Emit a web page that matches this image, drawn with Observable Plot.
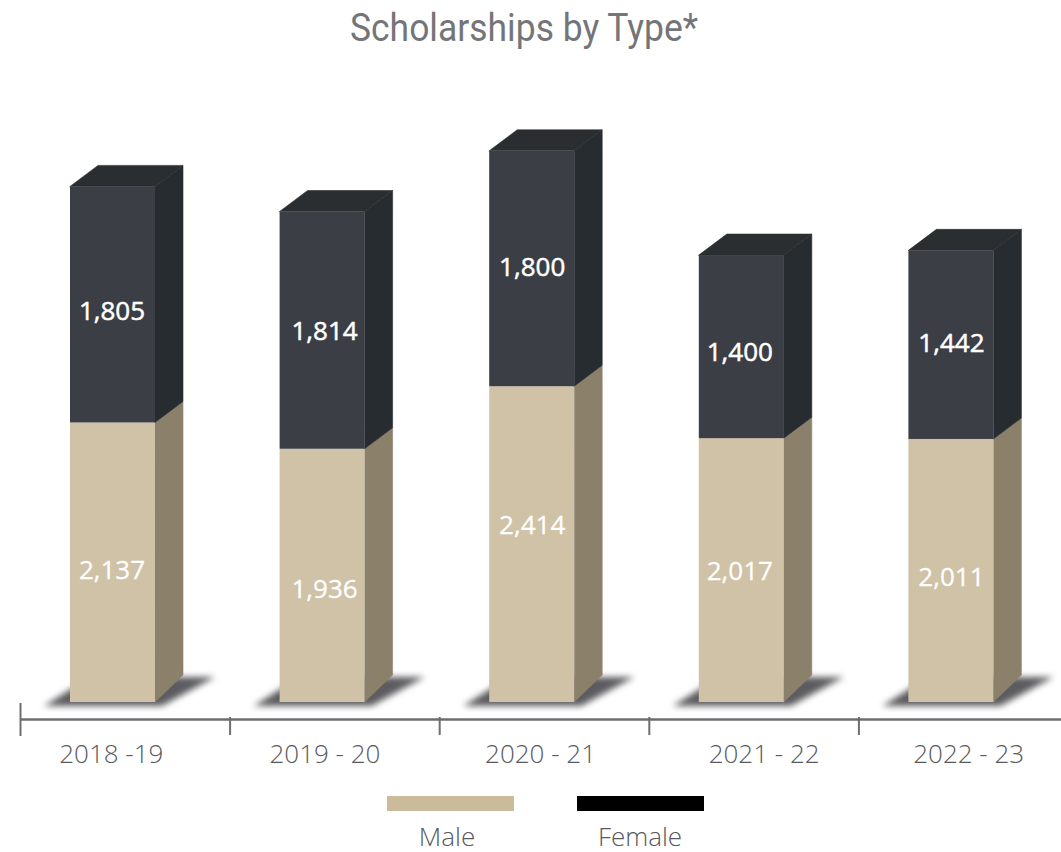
<!DOCTYPE html>
<html>
<head>
<meta charset="utf-8">
<script src="https://cdn.jsdelivr.net/npm/d3@7"></script>
<script src="https://cdn.jsdelivr.net/npm/@observablehq/plot@0.6"></script>
<style>
  html, body { margin: 0; padding: 0; background: #fff; overflow: hidden; }
  #title { position: relative; height: 60px; width: 1061px; }
  #title span { position: absolute; left: 524px; top: 6px; white-space: nowrap; font: 400 38px Roboto, sans-serif; color: #747578; transform-origin: 0 0; line-height: 44px; }
  #legend { position: relative; height: 82px; width: 1061px; font: 300 26px "Open Sans", sans-serif; color: #58595b; }
  #legend i { position: absolute; top: 26px; width: 127px; height: 15px; }
  #legend b { position: absolute; top: 50px; font-weight: 300; transform: translateX(-50%); line-height: 32px; }
  svg { display: block; overflow: visible; }
  .shadow { filter: blur(3px); }
</style>
</head>
<body>
<div id="title"><span>Scholarships by Type*</span></div>
<div id="chart"></div>
<div id="legend"></div>
<script>
const years = ["2018 -19", "2019 - 20", "2020 - 21", "2021 - 22", "2022 - 23"];
const male = [2137, 1936, 2414, 2017, 2011];
const female = [1805, 1814, 1800, 1400, 1442];
const seriesNames = ["Male", "Female"];

// Label nudges as drawn in the source, in pixels
const maleLabelNudge = [8, 14, -19, 1, 7];
const femaleLabelNudge = [7, 1, -1, 6, -1];
const valueLabelShift = [-1, 2, 0, -2, 0];
const yearLabelNudge = [-14, -10, -4, 10, 5];

const W = 1061, H = 710, baseY = 642, pxPerUnit = 0.1308, slotPx = 209.6, originX = 20;
const units = px => px / pxPerUnit;
const slots = px => px / slotPx;

const frontLeft = slots(50), frontRight = slots(135), depth = slots(28);
const lift = units(21), liftGround = units(27), axisValue = units(-17);

const segments = years.flatMap((y, i) => [
  {i, low: 0, high: male[i], part: "m", value: male[i], nudge: maleLabelNudge[i]},
  {i, low: male[i], high: male[i] + female[i], part: "f", value: female[i], nudge: femaleLabelNudge[i]}
]);

const sides = segments.flatMap((s, k) => [
  {k, part: s.part, x: s.i + frontRight, y1: s.low, y2: s.high},
  {k, part: s.part, x: s.i + frontRight + depth, y1: s.low + (s.low === 0 ? liftGround : lift), y2: s.high + lift}
]);

const tops = years.flatMap((y, i) => {
  const t = male[i] + female[i];
  return [
    {i, y: t, x1: i + frontLeft, x2: i + frontRight},
    {i, y: t + lift, x1: i + frontLeft + depth, x2: i + frontRight + depth}
  ];
});

const shadows = years.flatMap((y, i) => [
  {i, y: units(-4), x1: i + slots(24), x2: i + slots(142)},
  {i, y: units(25), x1: i + slots(70), x2: i + slots(195)}
]);

const fmt = d3.format(",");
const sans = "'Open Sans', sans-serif";
const tan = "#cfc2a6", tanSide = "#8b816b", dark = "#3b3f45", darkSide = "#272c30", darkTop = "#2a2e30", axisColor = "#6d6e71";
const partFill = (a, b) => d => d.part === "m" ? a : b;
const valueLabels = part => Plot.text(segments.filter(d => d.part === part), {
  x: d => d.i + (frontLeft + frontRight) / 2 + slots(valueLabelShift[d.i]),
  y: d => (d.low + d.high) / 2 - units(d.nudge),
  text: d => fmt(d.value),
  fill: "#fff", stroke: "#fff", strokeWidth: part === "m" ? 0.3 : 0.5,
  fontFamily: sans, fontSize: 26, fontWeight: 400
});

const plot = Plot.plot({
  width: W, height: H,
  margin: 0,
  x: {domain: [-originX / slotPx, (W - originX) / slotPx], range: [0, W], axis: null},
  y: {domain: [units(baseY - H), units(baseY)], range: [H, 0], axis: null},
  marks: [
    Plot.areaX(shadows, {y: "y", x1: "x1", x2: "x2", z: "i", fill: "#3f3f44", fillOpacity: 0.85, className: "shadow"}),
    Plot.areaY(sides, {x: "x", y1: "y1", y2: "y2", z: "k", fill: partFill(tanSide, darkSide), stroke: partFill(tanSide, darkSide), strokeWidth: 0.6}),
    Plot.areaX(tops, {y: "y", x1: "x1", x2: "x2", z: "i", fill: darkTop, stroke: darkTop, strokeWidth: 0.6}),
    Plot.rect(segments, {
      x1: d => d.i + frontLeft, x2: d => d.i + frontRight,
      y1: "low", y2: "high",
      fill: partFill(tan, dark)
    }),
    valueLabels("m"),
    valueLabels("f"),
    Plot.ruleY([axisValue], {stroke: axisColor, strokeWidth: 2.5, x1: 0, x2: (W - originX) / slotPx}),
    Plot.ruleX([0], {y1: units(-1), y2: units(-34), stroke: axisColor, strokeWidth: 2}),
    Plot.ruleX([1, 2, 3, 4], {y1: units(-15), y2: units(-33), stroke: axisColor, strokeWidth: 2}),
    Plot.text(years, {
      x: (d, i) => i + 0.5 + slots(yearLabelNudge[i]),
      y: () => axisValue, dy: 35,
      text: d => d,
      fill: "#58595b", fontFamily: sans, fontSize: 26, fontWeight: 300
    })
  ]
});
document.getElementById("chart").append(plot);

// Fit the title to a condensed width
const t = document.querySelector("#title span");
const tw = t.getBoundingClientRect().width;
const sx = 348 / tw;
t.style.transform = `scaleX(${sx}) translateX(${-tw / 2}px)`;

// Legend
const legend = document.getElementById("legend");
const swatchColors = ["#c9bb9b", "#000000"];
const swatchLeft = [387, 577], labelCentre = [447, 640];
seriesNames.forEach((n, i) => {
  const sw = document.createElement("i");
  sw.style.left = swatchLeft[i] + "px";
  sw.style.background = swatchColors[i];
  legend.append(sw);
  const lb = document.createElement("b");
  lb.style.left = labelCentre[i] + "px";
  lb.textContent = n;
  legend.append(lb);
});
</script>
</body>
</html>
